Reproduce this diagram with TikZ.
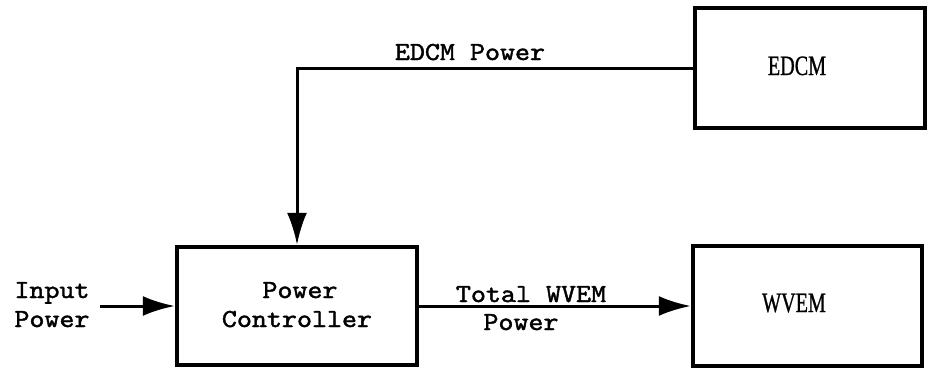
\documentclass[tikz,border=0pt]{standalone}
\usepackage{fontspec}
\usepackage{graphicx}
\setmainfont{Liberation Serif}
\newfontfamily\twfont{lmmono10-regular.otf}[FakeBold=1.5]
\newfontfamily\bxfont{Liberation Serif}[FakeBold=1]
\usetikzlibrary{arrows.meta}
\tikzset{
  blockbox/.style={draw, line width=4.5pt, rectangle, inner sep=0pt},
  conn/.style={line width=3pt},
  arr/.style={conn, -{Latex[length=32pt,width=20pt]}},
  twtext/.style={font=\twfont\fontsize{26}{29}\selectfont, inner sep=0pt, anchor=base},
  boxtext/.style={font=\bxfont\fontsize{28}{32}\selectfont, inner sep=0pt, anchor=base}
}
\newcommand{\tw}[1]{\scalebox{1.1}[1]{#1}}
\begin{document}
\begin{tikzpicture}[x=1pt,y=-1pt]
\useasboundingbox (0,0) rectangle (929,368);
% blocks
\node[blockbox, minimum width=240pt, minimum height=118pt] (pc) at (297,306) {};
\node[blockbox, minimum width=229pt, minimum height=120pt] (wvem) at (807.5,306) {};
\node[blockbox, minimum width=230pt, minimum height=120pt] (edcm) at (810,68) {};
% block texts
\node[twtext] (pct1) at (300,298) {\tw{Power}};
\node[twtext] (pct2) at (297,327) {\tw{Controller}};
\node[boxtext] (edcmt) at (797,75) {\scalebox{0.72}[1]{EDCM}};
\node[boxtext] (wvemt) at (794,312) {\scalebox{0.72}[1]{WVEM}};
% connector labels
\node[twtext] (inl1) at (52,298) {\tw{Input}};
\node[twtext] (inl2) at (52,327) {\tw{Power}};
\node[twtext] (edcml) at (470,60) {\tw{EDCM Power}};
\node[twtext] (totl1) at (531,302) {\tw{Total WVEM}};
\node[twtext] (totl2) at (521,330) {\tw{Power}};
% connectors
\coordinate (inpt) at (100,306);
\draw[arr] (inpt) -- (pc.west);
\draw[arr] (pc.east) -- (wvem.west);
\draw[arr] (edcm.west) -| (pc.north);
\end{tikzpicture}
\end{document}
